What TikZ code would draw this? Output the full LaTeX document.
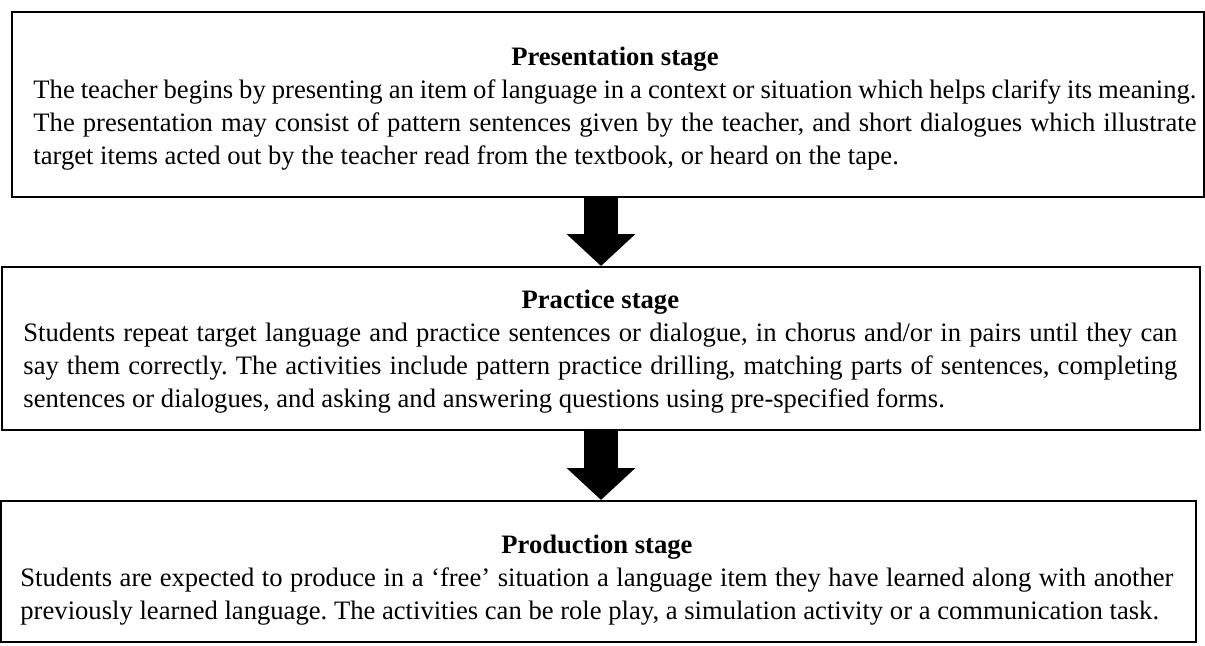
\documentclass[tikz,border=0pt]{standalone}
\usepackage{fontspec}
\setmainfont{Liberation Serif}
\usepackage{tikz}
\usetikzlibrary{arrows.meta}
\newcommand\fullline[1]{\hbox to \hsize{#1}}
\newcommand\midline[1]{\hbox to \hsize{\hfil#1\hfil}}
\newcommand\lastline[1]{\hbox to \hsize{#1\hfil}}
\newcommand\stagetext[2]{\vbox{\hsize=#1\fontsize{12.25}{15.2}\selectfont\frenchspacing #2}}
\begin{document}
\begin{tikzpicture}[x=0.46pt,y=-0.46pt]
	\tikzstyle{stage}=[draw=black,line width=0.9pt,inner sep=0pt]
	\tikzstyle{words}=[anchor=north west,inner sep=0pt]
	\tikzstyle{bigarrow}=[line width=15.2pt,-{Triangle[width=30.8pt,length=14.7pt]}]
	\useasboundingbox (0,0) rectangle (1205,646);
	\node[stage,minimum width=548.3pt,minimum height=85.1pt](s1) at (608,104.5) {};
	\node[stage,minimum width=551.1pt,minimum height=75pt](s2) at (601,348.5) {};
	\node[stage,minimum width=549.7pt,minimum height=64.9pt](s3) at (598.5,571.5) {};
	\node[words](t1) at (33,46.5) {\stagetext{535pt}{%
		\midline{\textbf{Presentation stage}}
		\fullline{The teacher begins by presenting an item of language in a context or situation which helps clarify its meaning.}
		\fullline{The presentation may consist of pattern sentences given by the teacher, and short dialogues which illustrate}
		\lastline{target items acted out by the teacher read from the textbook, or heard on the tape.}}};
	\node[words](t2) at (23,289.5) {\stagetext{530.8pt}{%
		\midline{\textbf{Practice stage}}
		\fullline{Students repeat target language and practice sentences or dialogue, in chorus and/or in pairs until they can}
		\fullline{say them correctly. The activities include pattern practice drilling, matching parts of sentences, completing}
		\lastline{sentences or dialogues, and asking and answering questions using pre-specified forms.}}};
	\node[words](t3) at (20,534.5) {\stagetext{530.4pt}{%
		\midline{\textbf{Production stage}}
		\fullline{Students are expected to produce in a ‘free’ situation a language item they have learned along with another}
		\lastline{previously learned language. The activities can be role play, a simulation activity or a communication task.}}};
	\draw[bigarrow](s2.north |- s1.south) -- (s2.north);
	\draw[bigarrow](s2.south) -- (s2.south |- s3.north);
\end{tikzpicture}
\end{document}
